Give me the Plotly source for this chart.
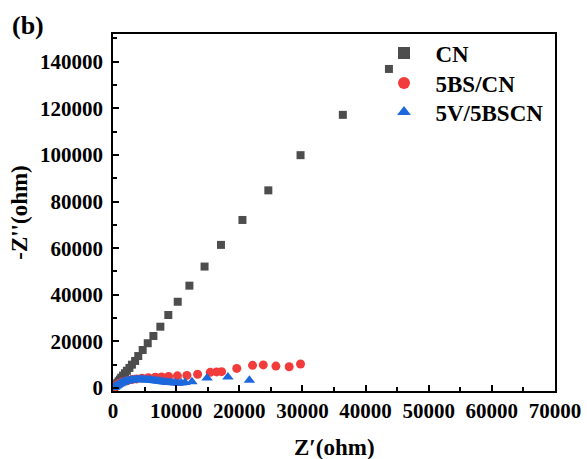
import plotly.graph_objects as go

cn_x = [100, 200, 350, 500, 700, 900, 1100, 1300, 1600, 1900, 2200, 2600, 3000, 3500,
        4000, 4700, 5500, 6400, 7500, 8760, 10250, 12100, 14500, 17100, 20500, 24600,
        29700, 36400, 43700]
cn_y = [150, 400, 900, 1500, 2200, 2900, 3600, 4400, 5300, 6300, 7400, 8600, 10000,
        11600, 13700, 16300, 19200, 22300, 26300, 31300, 37000, 43900, 52100, 61400,
        72100, 84800, 99900, 117200, 136900]

bs_x = [300, 600, 1000, 1500, 2200, 3000, 3700, 4600, 5600, 6700, 7700, 8800, 10200,
        11700, 13400, 15400, 16400, 17200, 19600, 22100, 23800, 25800, 27900, 29700]
bs_y = [600, 1300, 2000, 2600, 3100, 3600, 3900, 4200, 4400, 4600, 4700, 4900, 5200,
        5400, 5900, 6700, 6900, 7000, 8400, 9700, 9900, 9400, 9100, 10300]

v_x = [100, 200, 350, 500, 700, 900, 1100, 1300, 1550, 1800, 2050, 2300, 2550, 2800,
       3100, 3400, 3700, 4000, 4300, 4600, 4900, 5200, 5500, 5800, 6100, 6400, 6700,
       7000, 7300, 7600, 7900, 8200, 8500, 8800, 9100, 9500, 9900, 10300, 10800, 11400,
       12500, 14900, 18200, 21600]
v_y = [150, 300, 550, 850, 1200, 1550, 1850, 2150, 2450, 2700, 2900, 3050, 3200, 3300,
       3400, 3500, 3550, 3600, 3600, 3600, 3550, 3500, 3450, 3400, 3300, 3200, 3100,
       3000, 2900, 2800, 2700, 2600, 2500, 2400, 2300, 2200, 2100, 2050, 2100, 2300,
       2700, 4300, 4700, 3300]

x_ticks = [0, 10000, 20000, 30000, 40000, 50000, 60000, 70000]
y_ticks = [0, 20000, 40000, 60000, 80000, 100000, 120000, 140000]

FONT = "Liberation Serif, Times New Roman, serif"
NB = "\u00a0\u00a0"

fig = go.Figure()
fig.add_trace(go.Scatter(x=cn_x, y=cn_y, mode="markers", name=NB + "<b>CN</b>",
                         legend="legend",
                         marker=dict(symbol="square", size=8, color="#4d4d4d")))
fig.add_trace(go.Scatter(x=bs_x, y=bs_y, mode="markers", name=NB + "<b>5BS/CN</b>",
                         legend="legend2",
                         marker=dict(symbol="circle", size=9, color="#f23c3c")))
fig.add_trace(go.Scatter(x=v_x, y=v_y, mode="markers", name=NB + "<b>5V/5BSCN</b>",
                         legend="legend3",
                         marker=dict(symbol="triangle-up", size=10, color="#1c68dc")))

axis_common = dict(showline=True, linecolor="black", linewidth=1.5, mirror=True,
                   ticks="inside", ticklen=6, tickwidth=1.5, tickcolor="black",
                   showgrid=False, zeroline=False, automargin=False,
                   tickfont=dict(family=FONT, size=21, color="black"))

fig.update_xaxes(range=[0, 70000], tickvals=x_ticks,
                 ticktext=[f"<b>{v}</b>" for v in x_ticks],
                 minor=dict(dtick=5000, ticks="inside", ticklen=4, tickwidth=1.5,
                            tickcolor="black", showgrid=False),
                 **axis_common)
fig.update_yaxes(range=[-1300, 151900], tickvals=y_ticks,
                 ticktext=[f"<b>{v}</b>" for v in y_ticks],
                 minor=dict(dtick=10000, ticks="inside", ticklen=4, tickwidth=1.5,
                            tickcolor="black", showgrid=False),
                 ticklabelstandoff=4,
                 title=dict(text="<b>-Z''(ohm)</b>", standoff=6,
                            font=dict(family=FONT, size=23, color="black")),
                 **axis_common)

def leg(ypix):
    return dict(x=(384 - 113) / 442, y=(391 - ypix) / 357, xanchor="left",
                yanchor="middle", bgcolor="rgba(0,0,0,0)",
                font=dict(family=FONT, size=23, color="black"), itemsizing="constant")

fig.update_layout(
    width=587, height=459,
    margin=dict(l=113, r=32, t=34, b=68),
    paper_bgcolor="white", plot_bgcolor="white",
    font=dict(family=FONT, color="black"),
    showlegend=True,
    legend=leg(53), legend2=leg(83), legend3=leg(112),
    annotations=[
        dict(text="<b>(b)</b>", x=(10 - 113) / 442, y=1 + 25 / 357,
             xref="paper", yref="paper", xanchor="left", yanchor="top", showarrow=False,
             font=dict(family=FONT, size=26, color="black")),
        dict(text="<b>Z′(ohm)</b>", x=0.5, y=(391 - 448) / 357,
             xref="paper", yref="paper", xanchor="center", yanchor="middle",
             showarrow=False, font=dict(family=FONT, size=23, color="black")),
    ],
)

fig.write_html("out.html", config={"displayModeBar": False},
               post_script="document.body.style.margin='0px';document.body.style.padding='0px';")
